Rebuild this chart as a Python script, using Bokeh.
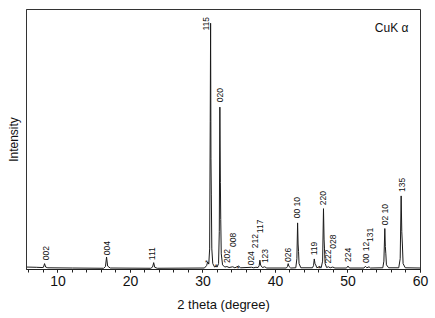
from bokeh.plotting import figure
from bokeh.models import Range1d, Label, ColumnDataSource, FixedTicker
from bokeh.core.properties import value
from bokeh.embed import file_html
from bokeh.resources import INLINE
import math

# --- data ---
two_theta = [5.66, 7.0, 7.8, 8.0, 8.15, 8.3, 8.6, 12.0, 16.3, 16.55, 16.7, 16.85, 17.2,
             22.8, 23.05, 23.2, 23.35, 23.7, 30.2, 30.5, 30.65, 30.8,
             30.92, 31.0, 31.05, 31.1, 31.15, 31.22, 31.35, 31.6, 31.8, 31.95,
             32.15, 32.25, 32.33, 32.4, 32.45, 32.52, 32.7, 33.0, 33.3, 33.6, 34.1, 34.4,
             34.9, 35.2, 36.7, 37.0, 37.3, 37.6, 37.75, 37.85, 37.95, 38.2, 38.5, 38.8,
             41.5, 41.65, 41.75, 41.85, 42.1, 42.8, 42.95, 43.05, 43.12, 43.18, 43.25,
             43.5, 45.1, 45.25, 45.35, 45.45, 45.55, 45.7, 46.1, 46.3, 46.5, 46.62,
             46.7, 46.76, 46.85, 47.05, 47.3, 47.55, 47.9, 48.2, 49.8, 50.0, 50.2,
             52.2, 52.4, 52.6, 52.9, 53.1, 54.8, 54.95, 55.08, 55.15, 55.22, 55.3,
             55.6, 57.0, 57.2, 57.33, 57.42, 57.5, 57.6, 57.9, 60.0]
intensity = [0.6, 0.5, 0.4, 0.5, 2.0, 0.6, 0.3, 0.2, 0.1, 0.8, 4.7, 1.0, 0.2,
             0.1, 0.6, 2.4, 0.5, 0.1, 0.2, 1.2, 2.7, 1.8,
             8.0, 60.0, 100.0, 45.0, 30.0, 8.0, 2.0, 0.6, 0.9, 0.6,
             2.0, 15.0, 65.8, 35.0, 20.0, 6.0, 1.5, 0.6, 0.8, 0.4, 0.7, 0.3,
             1.0, 0.3, 0.5, 0.3, 0.5, 0.4, 1.2, 3.4, 1.4, 0.4, 0.7, 0.2,
             0.2, 0.8, 2.0, 0.9, 0.2, 0.3, 4.0, 18.6, 10.0, 7.0, 2.0,
             0.3, 0.3, 1.2, 3.9, 2.0, 1.5, 0.3, 0.8, 0.3, 3.0, 24.4,
             12.0, 8.0, 2.0, 0.4, 0.7, 0.3, 0.6, 0.2, 0.2, 1.0, 0.2,
             0.2, 0.9, 0.3, 0.7, 0.2, 0.3, 3.0, 16.3, 9.0, 6.0, 1.5,
             0.3, 0.3, 4.0, 29.6, 15.0, 10.0, 2.0, 0.3, 0.2]

hkl_labels = ["002", "004", "111", "115", "020", "202", "008", "024", "212", "117",
              "123", "026", "00 10", "119", "220", "222", "028", "224", "00 12",
              "131", "02 10", "135"]
hkl_x = [8.3, 16.7, 23.0, 30.4, 32.3, 33.3, 34.1, 36.6, 37.2, 37.9,
         38.6, 41.7, 43.0, 45.3, 46.6, 47.3, 47.9, 50.0, 52.5,
         53.0, 55.1, 57.4]
hkl_y = [3.4, 5.4, 3.4, 97.0, 67.8, 2.2, 8.8, 1.3, 8.3, 14.4,
         2.2, 2.7, 20.5, 5.4, 25.8, 2.0, 8.1, 2.7, 2.2,
         10.8, 17.6, 31.2]

star_x = [30.45, 31.8, 34.85, 46.1]
star_y = [2.4, 0.9, 0.2, 0.0]

x_ticks = [10, 20, 30, 40, 50, 60]

FONT = "Liberation Sans"

p = figure(width=434, height=317, output_backend="svg", toolbar_location=None,
           x_range=Range1d(5.66, 60), y_range=Range1d(-0.4, 105.6),
           min_border_left=26, min_border_right=14, min_border_top=9, min_border_bottom=48)

p.background_fill_color = "white"
p.border_fill_color = "white"
p.outline_line_color = "#333333"
p.outline_line_width = 1
p.xgrid.visible = False
p.ygrid.visible = False

ay = p.yaxis[0]
ay.ticker = FixedTicker(ticks=[])
ay.major_label_text_font_size = "0px"
ay.major_tick_out = 0
ay.major_tick_in = 0
ay.minor_tick_out = 0
ay.minor_tick_in = 0
ay.axis_line_color = "#333333"
ay.axis_label = "Intensity"
ay.axis_label_text_font = FONT
ay.axis_label_text_font_size = "12px"
ay.axis_label_text_font_style = "normal"
ay.axis_label_text_color = "#111111"
ay.axis_label_standoff = 6

ax = p.xaxis[0]
ax.ticker = FixedTicker(ticks=x_ticks, minor_ticks=[x for x in range(6, 61, 2)])
ax.axis_label = "2 theta (degree)"
ax.axis_label_text_font = FONT
ax.axis_label_text_font_size = "13px"
ax.axis_label_text_font_style = "normal"
ax.axis_label_text_color = "#111111"
ax.axis_label_standoff = 8
ax.major_label_text_font = FONT
ax.major_label_text_font_size = "14px"
ax.major_label_text_color = "#111111"
ax.major_label_standoff = 3
ax.major_tick_out = 3
ax.major_tick_in = 0
ax.minor_tick_out = 3
ax.minor_tick_in = 0
ax.axis_line_color = "#222222"
ax.major_tick_line_color = "#222222"
ax.minor_tick_line_color = "#222222"

p.line(two_theta, intensity, line_color="#1a1a1a", line_width=1)

src = ColumnDataSource(dict(x=hkl_x, y=hkl_y, t=hkl_labels))
p.text(x="x", y="y", text="t", source=src, angle=math.pi / 2,
       text_align="left", text_baseline="middle",
       text_font=value(FONT), text_font_size="8.5px", text_color="#111111")

ssrc = ColumnDataSource(dict(x=star_x, y=star_y, t=["*"] * len(star_x)))
p.text(x="x", y="y", text="t", source=ssrc, text_align="center", text_baseline="middle",
       text_font=value(FONT), text_font_size="7px", text_color="#111111")

p.add_layout(Label(x=58.34, y=98.2, text="CuK α", text_align="right", text_baseline="middle",
                   text_font=FONT, text_font_size="12px", text_color="#111111"))

open("out.html", "w").write(file_html(p, INLINE))
